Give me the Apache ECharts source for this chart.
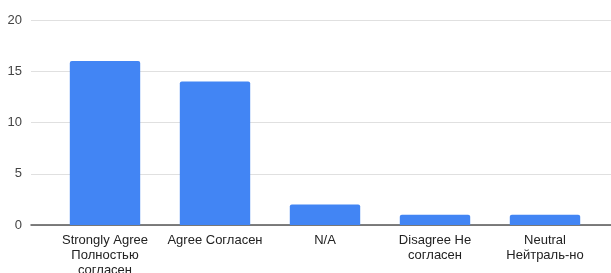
<html>
<head>
<meta charset="utf-8">
<script src="https://cdn.jsdelivr.net/npm/echarts@6/dist/echarts.min.js"></script>
</head>
<body style="margin:0;padding:0;background:#fff;">
<div id="main" style="width:611px;height:273px;"></div>
<script type="text/javascript">
    // ответы опроса
    var categories = ['Strongly Agree\nПолностью\nсогласен', 'Agree Согласен', 'N/A', 'Disagree Не\nсогласен', 'Neutral\nНейтраль-но'];
    var counts = [16, 14, 2, 1, 1];
    var yTicks = [0, 5, 10, 15, 20];

    var font = 'Liberation Sans, Arial, sans-serif';
    var myChart = echarts.init(document.getElementById('main'));

    var option = {
        animation: false,
        grid: [
            {left: 31, right: 0, top: 20, bottom: 48, outerBoundsMode: 'none'},
            {left: 50, right: 11, top: 20, bottom: 48, outerBoundsMode: 'none'}
        ],
        xAxis: [
            {
                gridIndex: 0, type: 'value', min: 0, max: 1,
                axisLine: {show: true, onZero: false, lineStyle: {color: '#555', width: 1.5}},
                axisTick: {show: false}, axisLabel: {show: false}, splitLine: {show: false}
            },
            {
                gridIndex: 1, type: 'category', data: categories,
                axisLine: {show: false}, axisTick: {show: false},
                axisLabel: {
                    interval: 0, margin: 8, color: '#222',
                    fontFamily: font, fontSize: 13, lineHeight: 15
                }
            }
        ],
        yAxis: [
            {
                gridIndex: 0, type: 'value',
                min: yTicks[0], max: yTicks[yTicks.length - 1], interval: 5,
                axisLine: {show: false}, axisTick: {show: false},
                axisLabel: {margin: 9, color: '#444', fontFamily: font, fontSize: 13},
                splitLine: {lineStyle: {color: '#e0e0e0', width: 1}}
            },
            {
                gridIndex: 1, type: 'value',
                min: yTicks[0], max: yTicks[yTicks.length - 1], interval: 5,
                show: false, splitLine: {show: false}
            }
        ],
        series: [
            {
                type: 'bar',
                xAxisIndex: 1, yAxisIndex: 1,
                data: counts,
                barCategoryGap: '36%',
                itemStyle: {color: '#4285f4', borderRadius: [2, 2, 0, 0]}
            }
        ]
    };

    myChart.setOption(option);
</script>
</body>
</html>
